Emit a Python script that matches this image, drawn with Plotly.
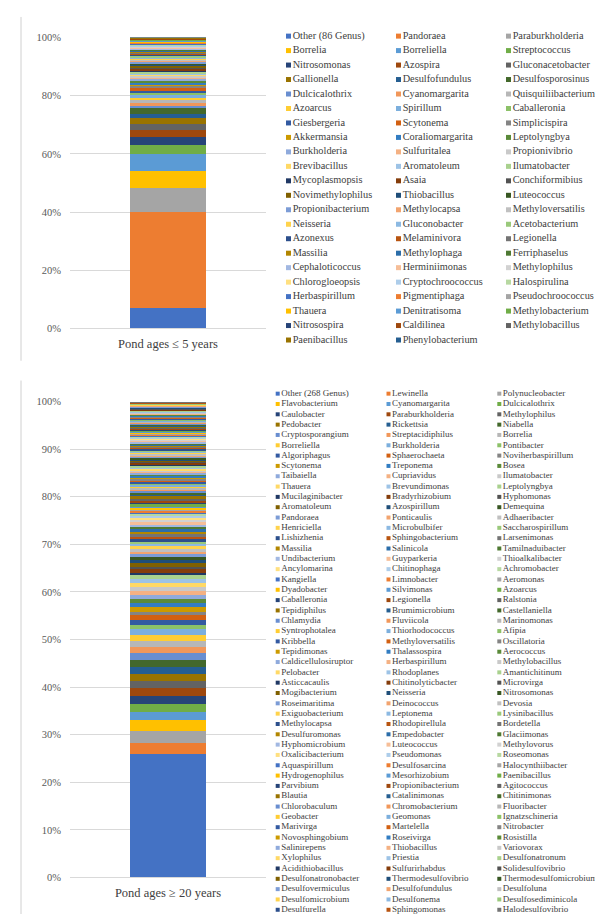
import colorsys
import plotly.graph_objects as go

# ---------------- data ----------------
category_top = "Pond ages \u2264 5 years"
category_bottom = "Pond ages \u2265 20 years"

genera_top = [
    "Other (86 Genus)", "Pandoraea", "Paraburkholderia",
    "Borrelia", "Borreliella", "Streptococcus",
    "Nitrosomonas", "Azospira", "Gluconacetobacter",
    "Gallionella", "Desulfofundulus", "Desulfosporosinus",
    "Dulcicalothrix", "Cyanomargarita", "Quisquiliibacterium",
    "Azoarcus", "Spirillum", "Caballeronia",
    "Giesbergeria", "Scytonema", "Simplicispira",
    "Akkermansia", "Coraliomargarita", "Leptolyngbya",
    "Burkholderia", "Sulfuritalea", "Propionivibrio",
    "Brevibacillus", "Aromatoleum", "Ilumatobacter",
    "Mycoplasmopsis", "Asaia", "Conchiformibius",
    "Novimethylophilus", "Thiobacillus", "Luteococcus",
    "Propionibacterium", "Methylocapsa", "Methyloversatilis",
    "Neisseria", "Gluconobacter", "Acetobacterium",
    "Azonexus", "Melaminivora", "Legionella",
    "Massilia", "Methylophaga", "Ferriphaselus",
    "Cephaloticoccus", "Herminiimonas", "Methylophilus",
    "Chlorogloeopsis", "Cryptochroococcus", "Halospirulina",
    "Herbaspirillum", "Pigmentiphaga", "Pseudochroococcus",
    "Thauera", "Denitratisoma", "Methylobacterium",
    "Nitrosospira", "Caldilinea", "Methylobacillus",
    "Paenibacillus", "Phenylobacterium",
]

values_top = [
    7.1, 32.8, 8.3, 5.9, 5.9, 3.2, 2.6, 2.3, 2.0, 2.1, 1.6, 1.8,
    1.0, 0.95, 0.9, 0.9, 0.85, 0.8, 0.75, 0.7, 0.7, 0.7, 0.65, 0.55,
    0.55, 0.5, 0.5, 0.5, 0.5, 0.5,
    0.5, 0.5, 0.5, 0.5, 0.45, 0.45,
    0.45, 0.45, 0.4, 0.4, 0.4, 0.4,
    0.4, 0.4, 0.35, 0.35, 0.35, 0.35,
    0.3, 0.3, 0.3, 0.3, 0.3, 0.3,
    0.25, 0.25, 0.25, 0.25, 0.25, 0.25,
    0.2, 0.2, 0.2, 0.2, 0.2,
]

genera_bottom = [
    "Other (268 Genus)", "Lewinella", "Polynucleobacter",
    "Flavobacterium", "Cyanomargarita", "Dulcicalothrix",
    "Caulobacter", "Paraburkholderia", "Methylophilus",
    "Pedobacter", "Rickettsia", "Niabella",
    "Cryptosporangium", "Streptacidiphilus", "Borrelia",
    "Borreliella", "Burkholderia", "Pontibacter",
    "Algoriphagus", "Sphaerochaeta", "Noviherbaspirillum",
    "Scytonema", "Treponema", "Bosea",
    "Taibaiella", "Cupriavidus", "Ilumatobacter",
    "Thauera", "Brevundimonas", "Leptolyngbya",
    "Mucilaginibacter", "Bradyrhizobium", "Hyphomonas",
    "Aromatoleum", "Azospirillum", "Demequina",
    "Pandoraea", "Ponticaulis", "Adhaeribacter",
    "Henriciella", "Microbulbifer", "Saccharospirillum",
    "Lishizhenia", "Sphingobacterium", "Larsenimonas",
    "Massilia", "Salinicola", "Tamilnaduibacter",
    "Undibacterium", "Guyparkeria", "Thioalkalibacter",
    "Ancylomarina", "Chitinophaga", "Achromobacter",
    "Kangiella", "Limnobacter", "Aeromonas",
    "Dyadobacter", "Silvimonas", "Azoarcus",
    "Caballeronia", "Legionella", "Ralstonia",
    "Tepidiphilus", "Brumimicrobium", "Castellaniella",
    "Chlamydia", "Fluviicola", "Marinomonas",
    "Syntrophotalea", "Thiorhodococcus", "Afipia",
    "Kribbella", "Methyloversatilis", "Oscillatoria",
    "Tepidimonas", "Thalassospira", "Aerococcus",
    "Caldicellulosiruptor", "Herbaspirillum", "Methylobacillus",
    "Pelobacter", "Rhodoplanes", "Amantichitinum",
    "Asticcacaulis", "Chitinolyticbacter", "Microvirga",
    "Mogibacterium", "Neisseria", "Nitrosomonas",
    "Roseimaritima", "Deinococcus", "Devosia",
    "Exiguobacterium", "Leptonema", "Lysinibacillus",
    "Methylocapsa", "Rhodopirellula", "Bordetella",
    "Desulfuromonas", "Empedobacter", "Glaciimonas",
    "Hyphomicrobium", "Luteococcus", "Methylovorus",
    "Oxalicibacterium", "Pseudomonas", "Roseomonas",
    "Aquaspirillum", "Desulfosarcina", "Halocynthiibacter",
    "Hydrogenophilus", "Mesorhizobium", "Paenibacillus",
    "Parvibium", "Propionibacterium", "Agitococcus",
    "Blautia", "Catalinimonas", "Chitinimonas",
    "Chlorobaculum", "Chromobacterium", "Fluoribacter",
    "Geobacter", "Geomonas", "Ignatzschineria",
    "Marivirga", "Martelella", "Nitrobacter",
    "Novosphingobium", "Roseivirga", "Rosistilla",
    "Salinirepens", "Thiobacillus", "Variovorax",
    "Xylophilus", "Priestia", "Desulfonatronum",
    "Acidithiobacillus", "Sulfurirhabdus", "Solidesulfovibrio",
    "Desulfonatronobacter", "Thermodesulfovibrio", "Thermodesulfomicrobium",
    "Desulfovermiculus", "Desulfofundulus", "Desulfoluna",
    "Desulfomicrobium", "Desulfonema", "Desulfosediminicola",
    "Desulfurella", "Sphingomonas", "Halodesulfovibrio",
]

values_bottom = [
    26.0, 2.3, 2.4, 2.3, 1.7, 1.7, 1.8, 1.6, 1.5, 1.4,
    1.4, 1.5, 1.5, 1.2, 1.4, 1.2, 1.2, 1.0, 1.0, 1.0,
    0.6, 1.0, 0.9, 0.9, 0.9, 0.8, 0.8, 0.9, 0.7, 0.9,
    0.5, 0.7, 0.6, 0.7, 0.7, 0.6,
    0.6, 0.55, 0.55, 0.55, 0.5, 0.5,
    0.55, 0.5, 0.5, 0.5, 0.5, 0.5,
    0.5, 0.5, 0.5, 0.45, 0.45, 0.45,
    0.35, 0.35, 0.3, 0.35, 0.3, 0.35,
    0.45, 0.4, 0.4, 0.4, 0.45, 0.4,
    0.35, 0.35, 0.3, 0.35, 0.3, 0.3, 0.35, 0.3, 0.3,
    0.3, 0.3, 0.3, 0.3, 0.3, 0.3, 0.3, 0.3, 0.3,
    0.3, 0.3, 0.25, 0.3, 0.25, 0.3,
    0.3, 0.25, 0.25, 0.25, 0.3, 0.25, 0.25, 0.2, 0.25,
    0.25, 0.25, 0.25, 0.25, 0.25, 0.2, 0.25, 0.25, 0.25,
    0.2, 0.25, 0.2, 0.2, 0.2, 0.15, 0.2, 0.2, 0.2,
    0.2, 0.2, 0.2, 0.2, 0.2, 0.2, 0.2, 0.2, 0.2,
    0.15, 0.15, 0.15, 0.15, 0.15, 0.15, 0.15, 0.15, 0.15,
    0.13, 0.13, 0.13, 0.13, 0.13, 0.13, 0.13, 0.13, 0.13,
    0.12, 0.12, 0.12, 0.12, 0.12, 0.12, 0.12, 0.12, 0.12,
]

assert len(genera_top) == len(values_top)
assert len(genera_bottom) == len(values_bottom)

# ---------------- style ----------------
ACCENTS = ["#4472C4", "#ED7D31", "#A5A5A5", "#FFC000", "#5B9BD5", "#70AD47"]
VARIANTS = [(1.0, 0.0), (0.6, 0.0), (0.8, 0.2), (0.8, 0.0), (0.6, 0.4),
            (0.5, 0.0), (0.7, 0.3), (0.7, 0.0), (0.5, 0.5)]


def excel_color(i):
    base = ACCENTS[i % 6]
    mod, off = VARIANTS[(i // 6) % len(VARIANTS)]
    r, g, b = (int(base[k:k + 2], 16) / 255 for k in (1, 3, 5))
    h, l, s = colorsys.rgb_to_hls(r, g, b)
    l = min(1.0, l * mod + off)
    r, g, b = colorsys.hls_to_rgb(h, l, s)
    return "#%02X%02X%02X" % (round(r * 255), round(g * 255), round(b * 255))


SERIF = "Liberation Serif, Times New Roman, serif"
W, H = 603, 914


def px_x(p):
    return p / W


def px_y(p):
    return 1 - p / H


fig = go.Figure()

# stacked bars
for cat, genera, vals, xa, ya in [
    (category_top, genera_top, values_top, "x", "y"),
    (category_bottom, genera_bottom, values_bottom, "x2", "y2"),
]:
    for i, (g, v) in enumerate(zip(genera, vals)):
        fig.add_trace(go.Bar(
            x=[cat], y=[v], name=g, xaxis=xa, yaxis=ya,
            marker=dict(color=excel_color(i), line=dict(width=0)),
            width=0.39, showlegend=False,
            hovertemplate=g + ": %{y:.2f}%<extra></extra>",
        ))

# legend grids (3 columns)
for genera, xa, ya, msize, fsize in [
    (genera_top, "x3", "y3", 5, 10.3),
    (genera_bottom, "x4", "y4", 4, 9),
]:
    fig.add_trace(go.Scatter(
        x=[i % 3 for i in range(len(genera))],
        y=[i // 3 for i in range(len(genera))],
        mode="markers+text",
        text=genera,
        textposition="middle right",
        textfont=dict(family=SERIF, size=fsize, color="#404040"),
        marker=dict(symbol="square", size=msize,
                    color=[excel_color(i) for i in range(len(genera))],
                    line=dict(width=0)),
        xaxis=xa, yaxis=ya, showlegend=False, hoverinfo="skip",
        cliponaxis=False,
    ))

bar_x_domain = [px_x(62), px_x(258)]
tick_font = dict(family=SERIF, size=10.5, color="#595959")
cat_font = dict(family=SERIF, size=12.5, color="#404040")

fig.update_layout(
    width=W, height=H,
    margin=dict(l=0, r=0, t=0, b=0),
    paper_bgcolor="white", plot_bgcolor="white",
    barmode="stack", barnorm="percent",
    showlegend=False,
    xaxis=dict(domain=bar_x_domain, anchor="y", type="category",
               showgrid=False, showline=False, ticks="",
               tickfont=cat_font, ticklabelstandoff=6, fixedrange=True),
    yaxis=dict(domain=[px_y(319.3), px_y(24.7)], anchor="x",
               range=[0, 100], tickvals=[0, 20, 40, 60, 80, 100],
               ticktext=["0%", "20%", "40%", "60%", "80%", "100%"],
               showgrid=True, gridcolor="#D9D9D9", gridwidth=1,
               zeroline=True, zerolinecolor="#D9D9D9", zerolinewidth=1,
               showline=False, ticks="", tickfont=tick_font,
               ticklabelstandoff=8, fixedrange=True),
    xaxis2=dict(domain=bar_x_domain, anchor="y2", type="category",
                showgrid=False, showline=False, ticks="",
                tickfont=cat_font, ticklabelstandoff=6, fixedrange=True),
    yaxis2=dict(domain=[px_y(875), px_y(393.3)], anchor="x2",
                range=[0, 100], tickvals=list(range(0, 101, 10)),
                ticktext=[f"{v}%" for v in range(0, 101, 10)],
                showgrid=True, gridcolor="#D9D9D9", gridwidth=1,
                zeroline=True, zerolinecolor="#D9D9D9", zerolinewidth=1,
                showline=False, ticks="", tickfont=tick_font,
                ticklabelstandoff=8, fixedrange=True),
    xaxis3=dict(domain=[px_x(280.5), px_x(500.5)], anchor="y3",
                range=[0, 2], visible=False, fixedrange=True),
    yaxis3=dict(domain=[px_y(331), px_y(23.4)], anchor="x3",
                range=[21, 0], visible=False, fixedrange=True),
    xaxis4=dict(domain=[px_x(269.7), px_x(491.3)], anchor="y4",
                range=[0, 2], visible=False, fixedrange=True),
    yaxis4=dict(domain=[px_y(907.7), px_y(385.3)], anchor="x4",
                range=[50, 0], visible=False, fixedrange=True),
    shapes=[
        dict(type="line", xref="paper", yref="paper",
             x0=px_x(13), x1=px_x(13), y0=px_y(4), y1=px_y(352),
             line=dict(color="#D0D0D0", width=1)),
        dict(type="line", xref="paper", yref="paper",
             x0=px_x(13), x1=px_x(13), y0=px_y(372), y1=px_y(914),
             line=dict(color="#D0D0D0", width=1)),
    ],
)

fig.write_html("out.html")
